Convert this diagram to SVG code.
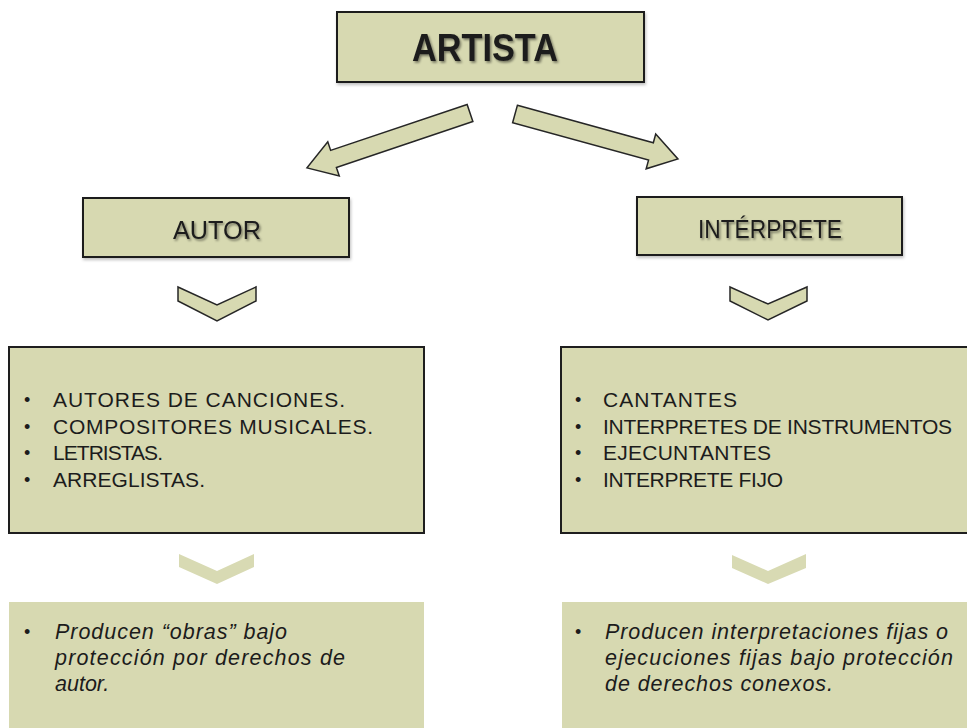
<svg xmlns="http://www.w3.org/2000/svg" width="967" height="728" viewBox="0 0 967 728">
  <defs>
    <filter id="tshadow" x="-10%" y="-30%" width="130%" height="170%">
      <feDropShadow dx="1.5" dy="1.8" stdDeviation="0.9" flood-color="#000" flood-opacity="0.45"/>
    </filter>
    <filter id="bshadow" x="-5%" y="-5%" width="110%" height="115%">
      <feDropShadow dx="1" dy="2" stdDeviation="1.5" flood-color="#000" flood-opacity="0.25"/>
    </filter>
  </defs>
  <style>
    .box { fill: #d7d9b1; stroke: #1e1e1e; stroke-width: 2; }
    .plain { fill: #d7d9b1; stroke: none; }
    .arrow { fill: #d7d9b1; stroke: #262626; stroke-width: 1.5; stroke-linejoin: miter; }
    .pale { fill: #d8dab3; stroke: none; }
    .head { font-family: "Liberation Sans", Arial, sans-serif; fill: #1c1c1c; text-anchor: middle; }
    .list { font-family: "Liberation Sans", Arial, sans-serif; font-size: 21px; fill: #1c1c1c; }
    .desc { font-family: "Liberation Sans", Arial, sans-serif; font-size: 21.5px; font-style: italic; fill: #1c1c1c; }
    .bullet { font-family: "Liberation Sans", Arial, sans-serif; font-size: 18px; fill: #1c1c1c; }
  </style>
  <rect width="967" height="728" fill="#ffffff"/>

  <g id="node-artista">
    <rect class="box" x="337" y="12" width="307" height="70" filter="url(#bshadow)"/>
    <text class="head" x="485" y="61" font-size="38" font-weight="bold" textLength="146" lengthAdjust="spacingAndGlyphs" filter="url(#tshadow)">ARTISTA</text>
  </g>

  <g id="node-autor">
    <rect class="box" x="83" y="198" width="266" height="59" filter="url(#bshadow)"/>
    <text class="head" x="217" y="239" font-size="26" textLength="88" lengthAdjust="spacingAndGlyphs" filter="url(#tshadow)">AUTOR</text>
  </g>

  <g id="node-interprete">
    <rect class="box" x="637" y="197" width="265" height="58" filter="url(#bshadow)"/>
    <text class="head" x="770" y="238" font-size="26" textLength="144" lengthAdjust="spacingAndGlyphs" filter="url(#tshadow)">INTÉRPRETE</text>
  </g>

  <g id="node-autor-list">
    <rect class="box" x="9" y="347" width="415" height="186"/>
    <text class="bullet" x="24" y="406">•</text>
    <text class="bullet" x="24" y="433">•</text>
    <text class="bullet" x="24" y="459">•</text>
    <text class="bullet" x="24" y="486">•</text>
    <text class="list" x="53" y="407" textLength="292" lengthAdjust="spacing">AUTORES DE CANCIONES.</text>
    <text class="list" x="53" y="434" textLength="320" lengthAdjust="spacing">COMPOSITORES MUSICALES.</text>
    <text class="list" x="53" y="460" textLength="110" lengthAdjust="spacing">LETRISTAS.</text>
    <text class="list" x="53" y="487" textLength="152" lengthAdjust="spacing">ARREGLISTAS.</text>
  </g>

  <g id="node-interprete-list">
    <rect class="box" x="561" y="347" width="420" height="186"/>
    <text class="bullet" x="575" y="406">•</text>
    <text class="bullet" x="575" y="433">•</text>
    <text class="bullet" x="575" y="459">•</text>
    <text class="bullet" x="575" y="486">•</text>
    <text class="list" x="603" y="407" textLength="134" lengthAdjust="spacing">CANTANTES</text>
    <text class="list" x="603" y="434" textLength="349" lengthAdjust="spacing">INTERPRETES DE INSTRUMENTOS</text>
    <text class="list" x="603" y="460" textLength="168" lengthAdjust="spacing">EJECUNTANTES</text>
    <text class="list" x="603" y="487" textLength="180" lengthAdjust="spacing">INTERPRETE FIJO</text>
  </g>

  <g id="node-autor-desc">
    <rect class="plain" x="9" y="602" width="415" height="130"/>
    <text class="bullet" x="24" y="638">•</text>
    <text class="desc" x="55" y="639" textLength="232" lengthAdjust="spacing">Producen “obras” bajo</text>
    <text class="desc" x="55" y="665" textLength="290" lengthAdjust="spacing">protección por derechos de</text>
    <text class="desc" x="55" y="691">autor.</text>
  </g>

  <g id="node-interprete-desc">
    <rect class="plain" x="562" y="602" width="410" height="130"/>
    <text class="bullet" x="575" y="638">•</text>
    <text class="desc" x="605" y="639" textLength="343" lengthAdjust="spacing">Producen interpretaciones fijas o</text>
    <text class="desc" x="605" y="665" textLength="348" lengthAdjust="spacing">ejecuciones fijas bajo protección</text>
    <text class="desc" x="605" y="691" textLength="228" lengthAdjust="spacing">de derechos conexos.</text>
  </g>

  <g id="connectors">
    <polygon class="arrow" transform="translate(470,113) rotate(161.4)" points="0,-9 144,-9 144,-18 172,0 144,18 144,9 0,9"/>
    <polygon class="arrow" transform="translate(515,114) rotate(15.4)" points="0,-9 141,-9 141,-18 169,0 141,18 141,9 0,9"/>
    <polygon class="arrow" points="178,287 217,305 256,287 256,301 217,321 178,301"/>
    <polygon class="arrow" points="730,287 768,304 807,287 807,301 768,320 730,301"/>
    <polygon class="pale" points="179,554 217,571 254,554 254,567 217,584 179,567"/>
    <polygon class="pale" points="732,555 768,571 806,554 806,568 768,584 732,568"/>
  </g>
</svg>
